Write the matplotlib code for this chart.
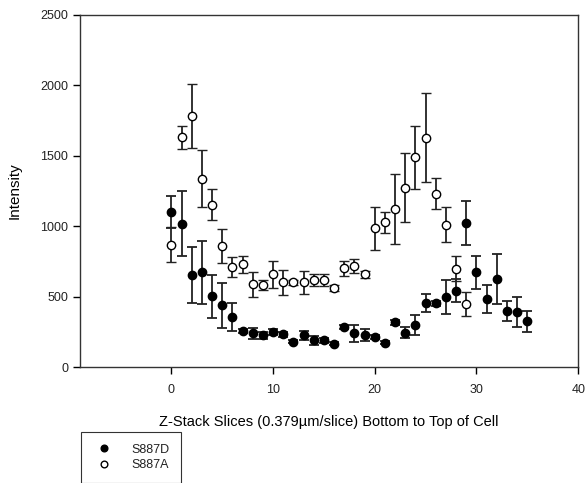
import matplotlib.pyplot as plt

plt.rcParams['font.family'] = ['Liberation Sans', 'DejaVu Sans']
plt.rcParams['text.color'] = '#222222'
plt.rcParams['xtick.labelcolor'] = '#222222'
plt.rcParams['ytick.labelcolor'] = '#222222'

# S887D (filled)
d_x = list(range(0, 36))
d_y = [1100, 1018, 653, 672, 502, 440, 355, 256, 241, 225, 251, 232, 180, 225, 189, 189, 166,
       284, 239, 227, 211, 173, 317, 244, 298, 457, 452, 497, 542, 1025, 672, 485, 625, 398, 391, 324]
d_err = [115, 230, 200, 225, 150, 160, 100, 15, 40, 25, 20, 20, 10, 30, 30, 20, 10,
         15, 60, 40, 15, 10, 20, 40, 70, 65, 20, 120, 80, 155, 120, 100, 175, 72, 105, 75]

# S887A (open)
a_x = list(range(0, 30))
a_y = [869, 1631, 1783, 1338, 1153, 859, 710, 729, 587, 582, 660, 601, 601, 601, 618, 618, 561,
       701, 717, 658, 985, 1027, 1122, 1274, 1489, 1629, 1231, 1012, 698, 445]
a_err = [125, 80, 225, 200, 110, 120, 70, 60, 90, 35, 95, 90, 15, 80, 45, 40, 20,
         55, 50, 25, 155, 75, 250, 245, 225, 315, 112, 125, 90, 85]

fig = plt.figure(figsize=(5.87, 4.83), dpi=100)
ax = fig.add_axes([0.136, 0.240, 0.849, 0.729])

ax.errorbar(d_x, d_y, yerr=d_err, fmt='o', color='black', ecolor='#222222',
            elinewidth=1.3, capsize=3.5, capthick=1.3, markersize=6,
            markerfacecolor='black', markeredgecolor='black', label='S887D', zorder=3)
ax.errorbar(a_x, a_y, yerr=a_err, fmt='o', color='black', ecolor='#222222',
            elinewidth=1.3, capsize=3.5, capthick=1.3, markersize=6,
            markerfacecolor='white', markeredgecolor='black', markeredgewidth=1.0,
            label='S887A', zorder=4)

ax.set_xlim(-9, 40)
ax.set_ylim(0, 2500)
ax.set_xticks([0, 10, 20, 30, 40])
ax.set_yticks([0, 500, 1000, 1500, 2000, 2500])
ax.tick_params(direction='out', length=5, width=1, labelsize=9, top=False, right=False)
ax.tick_params(axis='x', pad=7)
for s in ax.spines.values():
    s.set_linewidth(1.0)
    s.set_color('#333333')

ax.set_xlabel('Z-Stack Slices (0.379\u00b5m/slice) Bottom to Top of Cell', fontsize=10.5, labelpad=14)
ax.set_ylabel('Intensity', fontsize=11, labelpad=13)

handles, labels = ax.get_legend_handles_labels()
handles = [h[0] for h in handles]
leg = fig.legend(handles, labels, loc='upper left', bbox_to_anchor=(0.128, 0.118),
                 frameon=True, fancybox=False, edgecolor='black', fontsize=9,
                 markerscale=0.8, handletextpad=1.3, borderpad=0.9, labelspacing=0.3,
                 handlelength=1.8)
leg.get_frame().set_linewidth(0.8)

fig.savefig('out.png', dpi=100)
